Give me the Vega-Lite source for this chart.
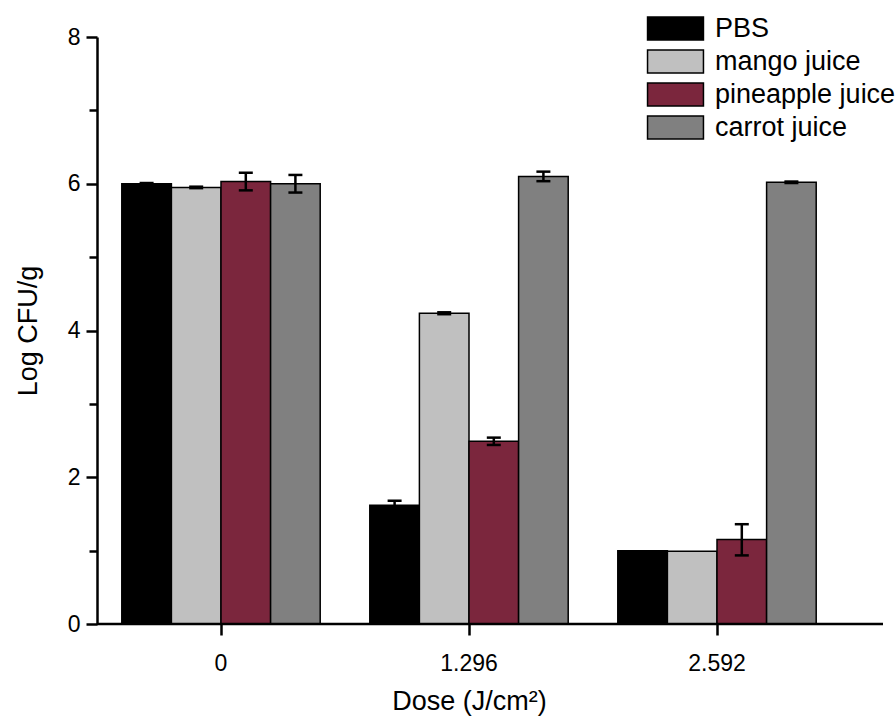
{
  "$schema": "https://vega.github.io/schema/vega-lite/v6.json",
  "width": 786,
  "height": 587,
  "autosize": {"type": "none"},
  "padding": {"left": 97, "top": 37, "right": 13, "bottom": 92},
  "background": "white",
  "config": {
    "font": "Liberation Sans",
    "view": {"stroke": null},
    "axis": {"grid": false, "domainColor": "black", "tickColor": "black", "labelColor": "black", "titleColor": "black", "titleFontWeight": "normal"}
  },
  "data": {
    "values": [
      {"dose": "0", "group": "PBS", "mean": 6.0, "lo": 5.99, "hi": 6.01},
      {"dose": "0", "group": "mango juice", "mean": 5.95, "lo": 5.94, "hi": 5.96},
      {"dose": "0", "group": "pineapple juice", "mean": 6.03, "lo": 5.91, "hi": 6.15},
      {"dose": "0", "group": "carrot juice", "mean": 6.0, "lo": 5.88, "hi": 6.12},
      {"dose": "1.296", "group": "PBS", "mean": 1.62, "lo": 1.56, "hi": 1.68},
      {"dose": "1.296", "group": "mango juice", "mean": 4.235, "lo": 4.222, "hi": 4.248},
      {"dose": "1.296", "group": "pineapple juice", "mean": 2.49, "lo": 2.44, "hi": 2.54},
      {"dose": "1.296", "group": "carrot juice", "mean": 6.1, "lo": 6.035, "hi": 6.165},
      {"dose": "2.592", "group": "PBS", "mean": 1.0, "lo": null, "hi": null},
      {"dose": "2.592", "group": "mango juice", "mean": 0.99, "lo": null, "hi": null},
      {"dose": "2.592", "group": "pineapple juice", "mean": 1.15, "lo": 0.935, "hi": 1.36},
      {"dose": "2.592", "group": "carrot juice", "mean": 6.02, "lo": 6.01, "hi": 6.03}
    ]
  },
  "encoding": {
    "x": {
      "field": "dose", "type": "nominal", "sort": ["0", "1.296", "2.592"],
      "scale": {"range": [0, 744], "paddingInner": 0.2, "paddingOuter": 0.1},
      "axis": {"title": "Dose (J/cm²)", "labelAngle": 0, "domain": false, "tickSize": 11, "tickWidth": 2.5, "labelPadding": 17, "labelFontSize": 23, "titleFontSize": 27, "titlePadding": 13}
    },
    "xOffset": {"field": "group", "type": "nominal", "sort": ["PBS", "mango juice", "pineapple juice", "carrot juice"], "scale": {"paddingInner": 0, "paddingOuter": 0}}
  },
  "layer": [
    {
      "mark": {"type": "bar", "stroke": "black", "strokeWidth": 1.5},
      "encoding": {
        "y": {
          "field": "mean", "type": "quantitative",
          "scale": {"domain": [0, 8], "nice": false, "zero": true},
          "axis": {
            "title": "Log CFU/g", "values": [0, 1, 2, 3, 4, 5, 6, 7, 8], "format": "d",
            "labelExpr": "datum.value % 2 === 0 ? datum.label : ''",
            "tickSize": {"condition": {"test": "datum.value % 2 === 0", "value": 11}, "value": 8},
            "tickWidth": 2.5, "domainWidth": 2.5, "labelPadding": 6, "labelFontSize": 23, "titleFontSize": 27, "titlePadding": 25
          }
        },
        "color": {
          "field": "group", "type": "nominal",
          "sort": ["PBS", "mango juice", "pineapple juice", "carrot juice"],
          "scale": {"domain": ["PBS", "mango juice", "pineapple juice", "carrot juice"], "range": ["#000000", "#c0c0c0", "#7b263d", "#808080"]},
          "legend": {
            "title": null, "orient": "none", "legendX": 565, "legendY": -22, "padding": 0,
            "symbolType": "M-2.33,-0.96L2.33,-0.96L2.33,0.96L-2.33,0.96Z", "symbolSize": 576,
            "symbolStrokeColor": "black", "symbolStrokeWidth": 1.5, "symbolOpacity": 1,
            "labelFontSize": 27, "labelOffset": 26, "rowPadding": 2, "labelColor": "black", "labelLimit": 400
          }
        }
      }
    },
    {
      "transform": [{"filter": "isValid(datum.lo)"}],
      "mark": {"type": "rule", "color": "black", "strokeWidth": 2.5},
      "encoding": {"y": {"field": "lo", "type": "quantitative"}, "y2": {"field": "hi"}}
    },
    {
      "transform": [{"filter": "isValid(datum.lo)"}],
      "mark": {"type": "tick", "orient": "horizontal", "size": 14, "thickness": 2.5, "color": "black", "opacity": 1},
      "encoding": {"y": {"field": "lo", "type": "quantitative"}}
    },
    {
      "transform": [{"filter": "isValid(datum.lo)"}],
      "mark": {"type": "tick", "orient": "horizontal", "size": 14, "thickness": 2.5, "color": "black", "opacity": 1},
      "encoding": {"y": {"field": "hi", "type": "quantitative"}}
    },
    {
      "data": {"values": [{"base": 0}]},
      "mark": {"type": "rule", "color": "black", "strokeWidth": 2.5},
      "encoding": {"y": {"field": "base", "type": "quantitative"}, "x": null, "xOffset": null}
    }
  ]
}
